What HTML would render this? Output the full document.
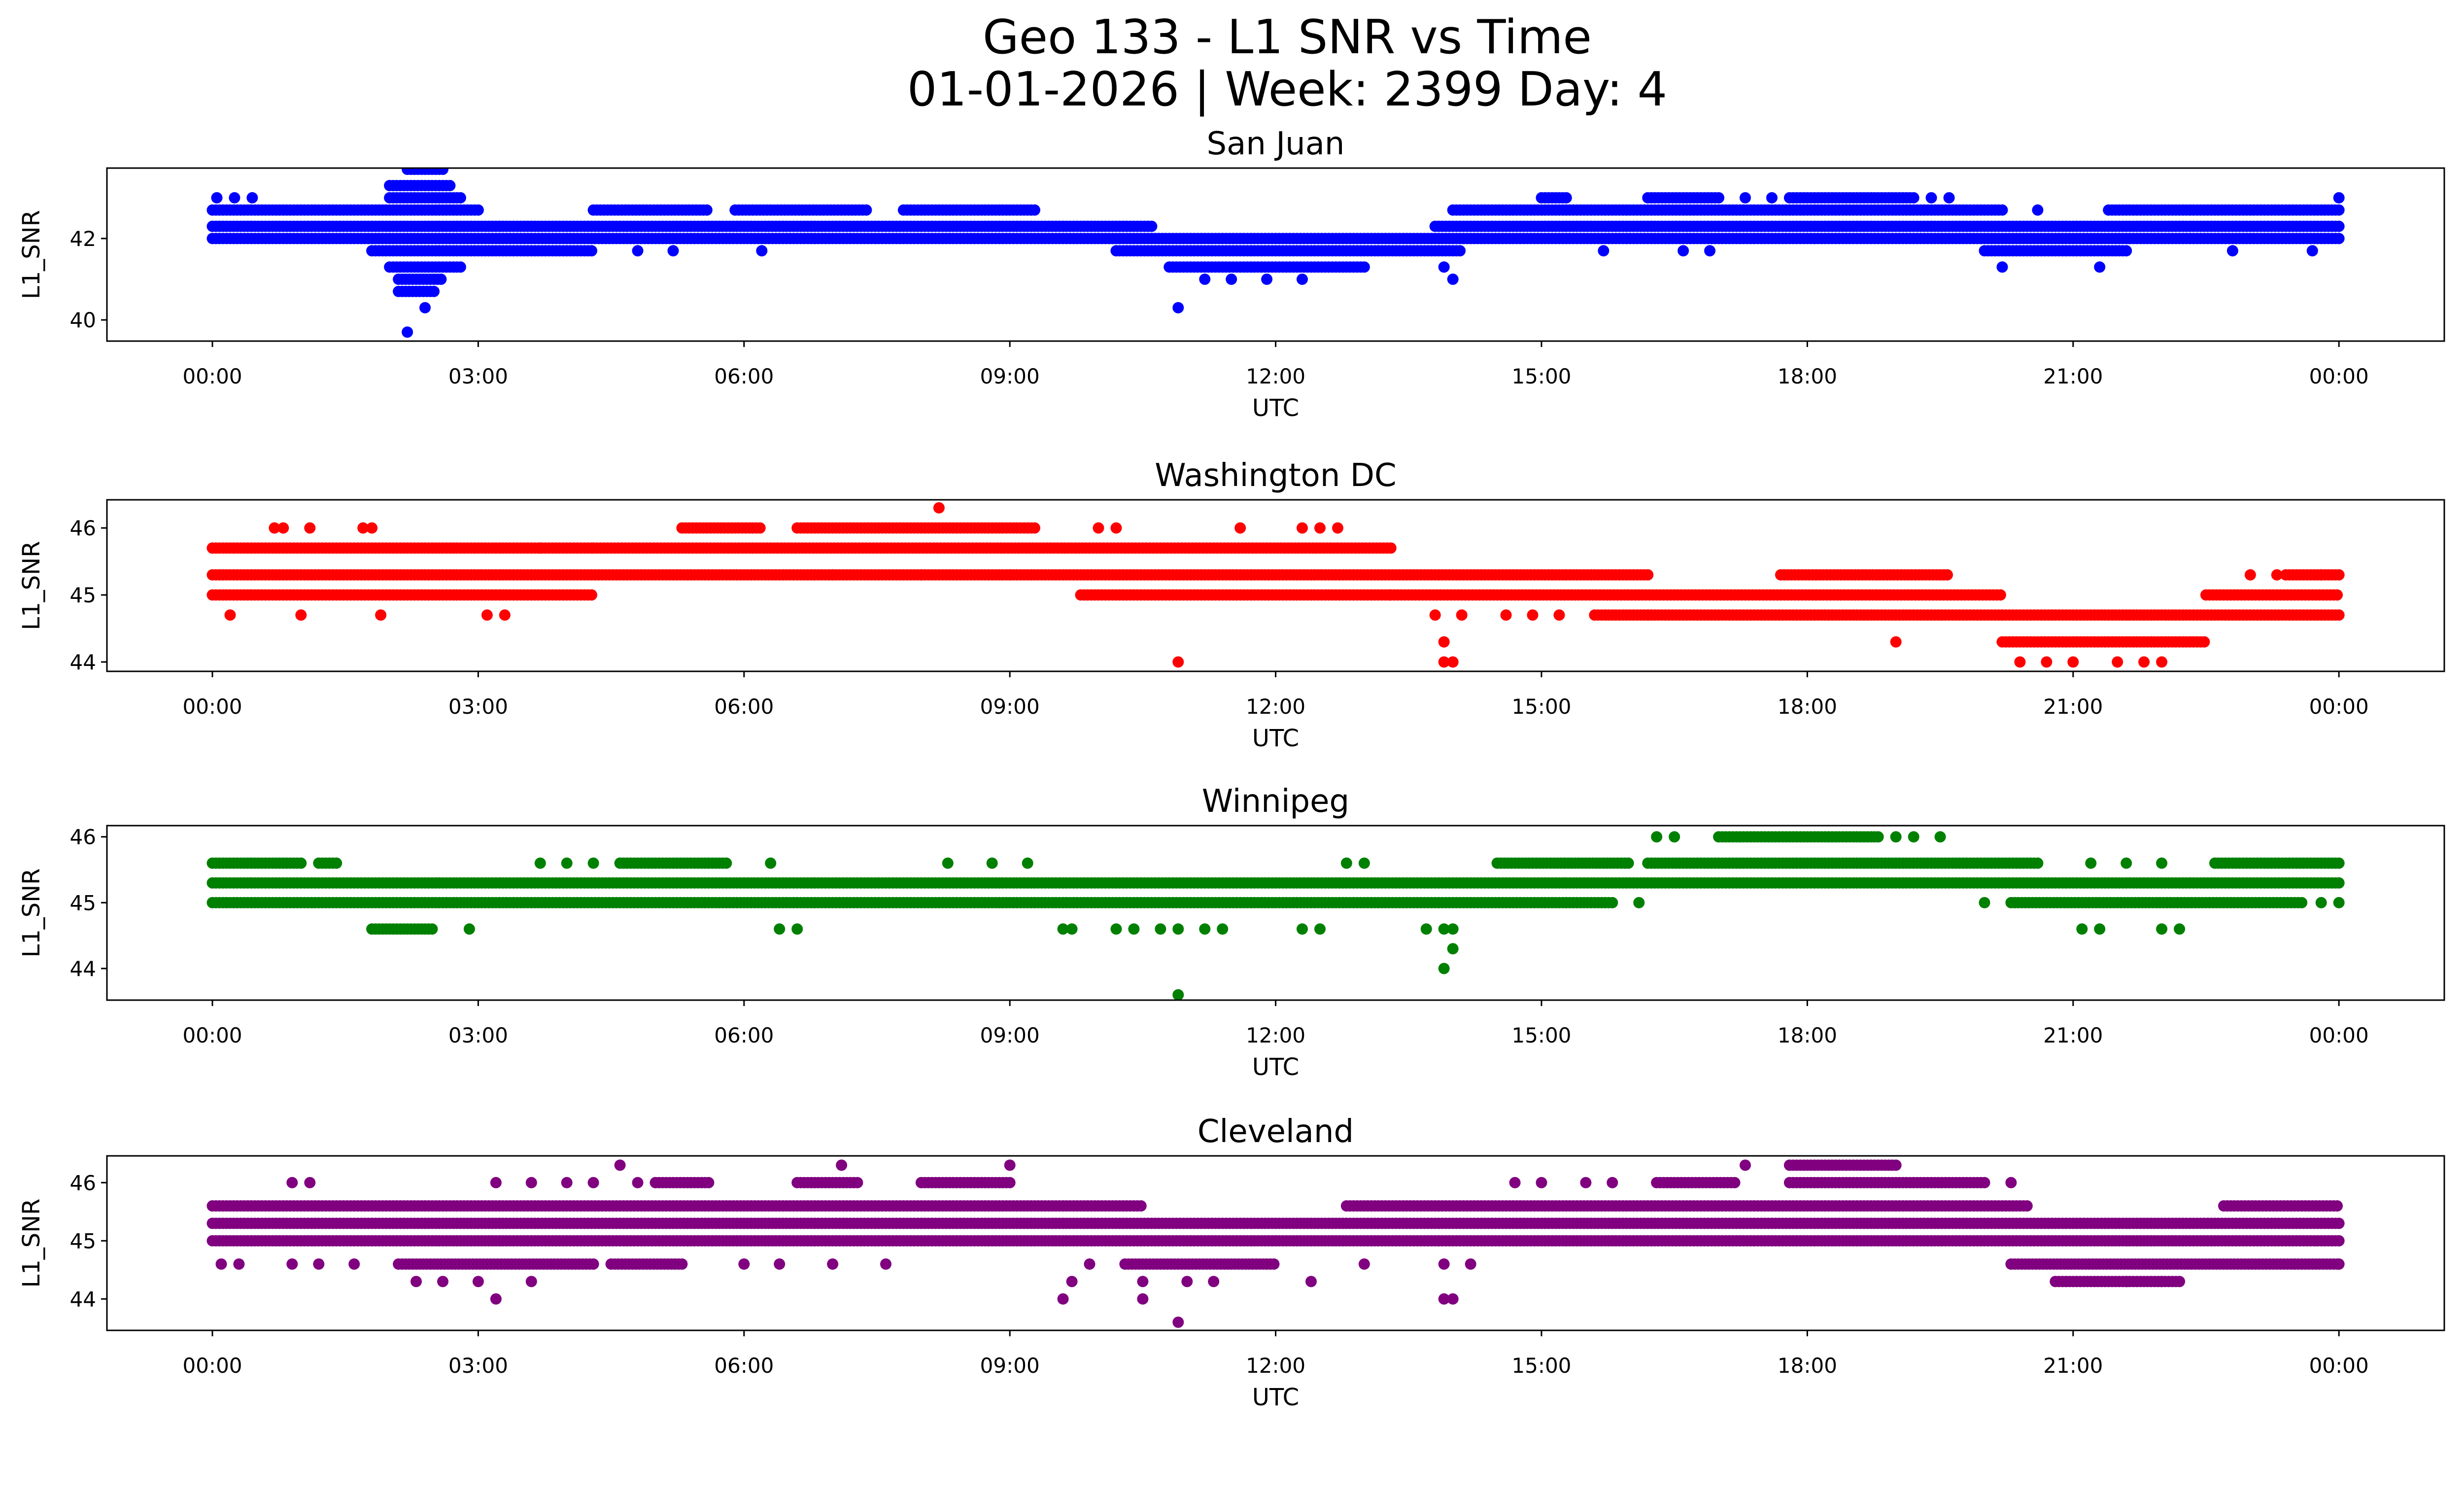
<!DOCTYPE html>
<html><head><meta charset="utf-8">
<style>
html,body{margin:0;padding:0;background:#fff;}
svg{display:block;font-family:"DejaVu Sans","Liberation Sans",sans-serif;}
</style></head>
<body>
<svg id="chart" width="5225" height="3033" viewBox="0 0 5225 3033" xmlns="http://www.w3.org/2000/svg">
<rect width="5225" height="3033" fill="#fff"/>
<text x="2612" y="108" font-size="95" text-anchor="middle">Geo 133 - L1 SNR vs Time</text>
<text x="2612" y="214" font-size="95" text-anchor="middle">01-01-2026 | Week: 2399 Day: 4</text>
</svg>
<script>
// ---- shared axis data ----
const xTickHours = [0,3,6,9,12,15,18,21,24];
const xTickLabels = ["00:00","03:00","06:00","09:00","12:00","15:00","18:00","21:00","00:00"];

// ---- San Juan ----
const sjTitle = "San Juan";
const sjYTicks = [40,42];
const sjBands = [ // [level, startHour, endHour]
 [42.0,0,24],[42.3,0,10.6],[42.3,13.8,24],
 [42.7,0,3.0],[42.7,4.3,5.6],[42.7,5.9,7.4],[42.7,7.8,9.3],[42.7,14.0,20.2],[42.7,21.4,24],
 [41.7,1.8,4.3],[41.7,10.2,14.1],[41.7,20.0,21.6],[41.3,10.8,13.0],[41.3,2.0,2.8],
 [43.0,15.0,15.3],[43.0,16.2,17.0],[43.0,17.8,19.2],[43.0,2.0,2.8],
 [43.3,2.0,2.7],[43.7,2.2,2.6],[41.0,2.1,2.6],[40.7,2.1,2.5]
];
const sjPoints = [ // [hour, level]
 [0.05,43],[0.25,43],[0.45,43],[2.2,39.7],[2.4,40.3],[10.9,40.3],[11.5,41],[11.9,41],[14.0,41],
 [4.8,41.7],[5.2,41.7],[6.2,41.7],[19.4,43],[19.6,43],[20.2,41.3],[21.3,41.3],[22.8,41.7],[23.7,41.7],[24,43],
 [11.2,41],[12.3,41],[13.9,41.3],[15.7,41.7],[16.6,41.7],[16.9,41.7],[17.3,43],[17.6,43],[20.6,42.7]
];

// ---- Washington DC ----
const dcTitle = "Washington DC";
const dcYTicks = [44,45,46];
const dcBands = [
 [45.3,0,16.2],[45.7,0,4.3],[45.0,0,4.3],[45.7,4.3,13.3],[46.0,5.3,6.2],[46.0,6.6,9.3],
 [45.0,9.8,13.3],[45.0,13.3,20.2],[44.7,16.2,20.2],[44.7,20.2,24],[44.3,20.2,22.5],
 [45.0,22.5,24],[45.3,23.4,24],[45.3,17.7,19.6],[44.7,15.6,16.2]
];
const dcPoints = [
 [0.2,44.7],[1.0,44.7],[1.9,44.7],[3.1,44.7],[3.3,44.7],[0.7,46],[0.8,46],[1.1,46],[1.7,46],[1.8,46],
 [8.2,46.3],[10.9,44],[11.6,46],[12.3,46],[12.5,46],[12.7,46],[13.8,44.7],[13.9,44.3],[13.9,44],[14.0,44],
 [14.1,44.7],[14.6,44.7],[14.9,44.7],[15.2,44.7],[19.0,44.3],[20.4,44],[20.7,44],[21.0,44],[21.5,44],[21.8,44],[22.0,44],
 [3.7,45.7],[10.0,46],[10.2,46],[7.0,45.3],[8.0,45.3],[9.0,45.3],[23.0,45.3],[23.3,45.3],[23.8,45.3]
];

// ---- Winnipeg ----
const wpTitle = "Winnipeg";
const wpYTicks = [44,45,46];
const wpBands = [
 [45.3,0,24],[45.0,0,15.8],[45.0,20.3,23.6],[45.6,0,1.0],[45.6,4.6,5.8],[45.6,14.5,16.0],
 [45.6,16.2,20.6],[45.6,22.6,24],[46.0,17.0,18.8],[44.6,1.8,2.5],[45.6,1.2,1.4]
];
const wpPoints = [
 [16.3,46],[16.5,46],[19.0,46],[19.2,46],[19.5,46],[2.9,44.6],[6.4,44.6],[6.6,44.6],[9.6,44.6],[9.7,44.6],
 [10.2,44.6],[10.4,44.6],[10.7,44.6],[10.9,44.6],[11.2,44.6],[11.4,44.6],[12.3,44.6],[12.5,44.6],
 [13.7,44.6],[13.9,44.6],[14.0,44.6],[14.0,44.3],[13.9,44],[10.9,43.6],[21.1,44.6],[21.3,44.6],[22.0,44.6],[22.2,44.6],
 [3.7,45.6],[4.0,45.6],[4.3,45.6],[6.3,45.6],[8.3,45.6],[8.8,45.6],[9.2,45.6],[12.8,45.6],[13.0,45.6],
 [21.2,45.6],[21.6,45.6],[22.0,45.6],[16.1,45],[20.0,45],[23.8,45],[24,45]
];

// ---- Cleveland ----
const clTitle = "Cleveland";
const clYTicks = [44,45,46];
const clBands = [
 [45.3,0,24],[45.0,0,24],[45.6,0,10.5],[45.6,12.8,20.5],[45.6,22.7,24],
 [44.6,2.1,4.3],[44.6,4.5,5.3],[44.6,10.3,12.0],[44.6,20.3,24],[44.3,20.8,22.2],
 [46.0,8.0,9.0],[46.0,16.3,17.2],[46.0,17.8,20.0],[46.0,5.0,5.6],[46.0,6.6,7.3],[46.3,17.8,19.0]
];
const clPoints = [
 [0.1,44.6],[0.3,44.6],[0.9,46],[1.1,46],[0.9,44.6],[1.2,44.6],[1.6,44.6],[2.3,44.3],[2.6,44.3],[3.0,44.3],[3.2,44],[3.6,44.3],
 [3.2,46],[3.6,46],[4.0,46],[4.3,46],[4.6,46.3],[4.8,46],[6.0,44.6],[6.4,44.6],[7.0,44.6],[7.1,46.3],[7.6,44.6],
 [9.0,46.3],[9.6,44],[9.7,44.3],[9.9,44.6],[10.5,44],[10.5,44.3],[10.9,43.6],[11.0,44.3],[11.3,44.3],
 [12.4,44.3],[13.0,44.6],[13.9,44],[14.0,44],[13.9,44.6],[14.2,44.6],[14.7,46],[15.0,46],[15.5,46],[15.8,46],
 [17.3,46.3],[20.3,46],[24,44.6],[23.5,44.6],[21.6,44.3],[22.0,44.3]
];

// ---- layout (not data) ----
const X0 = 431, PXH = 179.8, AXL = 217, AXR = 4960;
const panels = [
 {key:"san-juan", title:sjTitle, color:"#0000ff", top:341, bot:692, ymin:39.48, ymax:43.73, ticks:sjYTicks, bands:sjBands, pts:sjPoints},
 {key:"washington-dc", title:dcTitle, color:"#ff0000", top:1014, bot:1362, ymin:43.86, ymax:46.42, ticks:dcYTicks, bands:dcBands, pts:dcPoints},
 {key:"winnipeg", title:wpTitle, color:"#008000", top:1675, bot:2029, ymin:43.52, ymax:46.17, ticks:wpYTicks, bands:wpBands, pts:wpPoints},
 {key:"cleveland", title:clTitle, color:"#800080", top:2345, bot:2699, ymin:43.46, ymax:46.46, ticks:clYTicks, bands:clBands, pts:clPoints}
];
const NS = "http://www.w3.org/2000/svg";
const svg = document.getElementById("chart");
function mk(tag, attrs, parent){const e=document.createElementNS(NS,tag);for(const k in attrs)e.setAttribute(k,attrs[k]);(parent||svg).appendChild(e);return e;}
const xs = h => X0 + h*PXH;

panels.forEach(p=>{
  const ys = v => p.bot - (v - p.ymin)/(p.ymax - p.ymin)*(p.bot - p.top);
  const g = mk("g",{});
  
  
  const clipId = "clip-"+p.key;
  const cp = mk("clipPath",{id:clipId},g);
  mk("rect",{x:AXL,y:p.top,width:AXR-AXL,height:p.bot-p.top},cp);
  const marks = mk("g",{"clip-path":"url(#"+clipId+")",fill:p.color},g);
  
  
  p.bands.forEach(b=>{
    for(let h=b[1]; h<=b[2]+1e-9; h+=0.04){
      mk("circle",{cx:xs(h).toFixed(1),cy:ys(b[0]).toFixed(1),r:11.5},marks);
    }
  });
  p.pts.forEach(pt=>{
    const c = mk("circle",{cx:xs(pt[0]).toFixed(1),cy:ys(pt[1]).toFixed(1),r:11.5},marks);
    
    
  });
  const frame = mk("rect",{x:AXL,y:p.top,width:AXR-AXL,height:p.bot-p.top,fill:"none",stroke:"#000","stroke-width":3},g);
  
  
  xTickHours.forEach((h,i)=>{
    mk("line",{x1:xs(h),x2:xs(h),y1:p.bot,y2:p.bot+12,stroke:"#000","stroke-width":3},g);
    const t = mk("text",{x:xs(h),y:p.bot+86,"font-size":42,"text-anchor":"middle"},g);
    t.textContent = xTickLabels[i];
    
    
  });
  p.ticks.forEach(v=>{
    mk("line",{x1:AXL-12,x2:AXL,y1:ys(v),y2:ys(v),stroke:"#000","stroke-width":3},g);
    const t = mk("text",{x:AXL-22,y:ys(v)+15,"font-size":42,"text-anchor":"end"},g);
    t.textContent = v;
    
    
  });
  const xt = mk("text",{x:(AXL+AXR)/2,y:p.bot+152,"font-size":48,"text-anchor":"middle"},g);
  xt.textContent = "UTC";
  
  
  const cy = (p.top+p.bot)/2;
  const yt = mk("text",{x:80,y:cy,"font-size":48,"text-anchor":"middle",transform:"rotate(-90 80 "+cy+")"},g);
  yt.textContent = "L1_SNR";
  
  
  const st = mk("text",{x:(AXL+AXR)/2,y:p.top-28,"font-size":64,"text-anchor":"middle"},g);
  st.textContent = p.title;
  
  
});
</script>
</body></html>
